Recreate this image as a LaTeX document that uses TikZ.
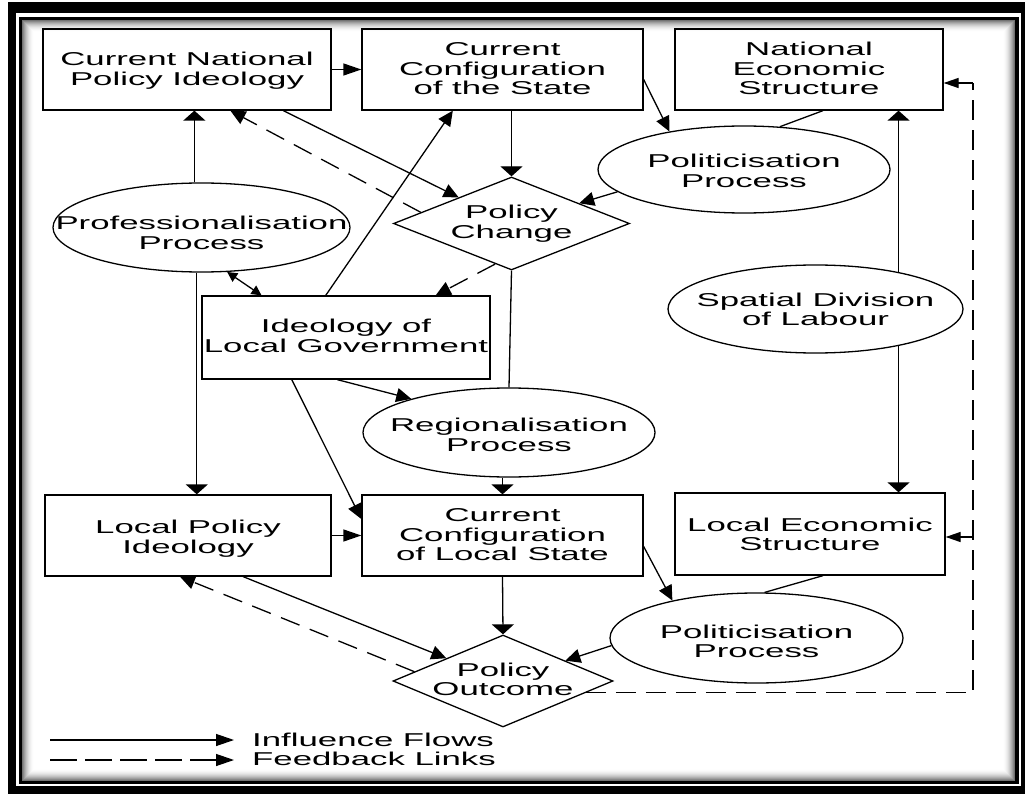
\documentclass[tikz,border=0pt]{standalone}
\usepackage{fontspec}
\setmainfont{Liberation Sans}[FakeStretch=1.87]
\usetikzlibrary{shapes.geometric,arrows.meta,calc}

% centred multi-line label that does not widen its node; optional downward shift
\newcommand\stacked[2][2pt]{\raisebox{-#1}[\height][\depth]{\makebox[0pt]{\begin{tabular}{@{}c@{}}#2\end{tabular}}}}

\begin{document}
\begin{tikzpicture}[x=1pt,y=-1pt,
  font=\fontsize{18.6}{19.5}\selectfont,
  box/.style={draw, line width=1.3pt, rectangle, inner sep=0pt},
  proc/.style={draw, line width=1.3pt, ellipse, inner sep=0pt},
  dec/.style={draw, line width=1.3pt, diamond, inner sep=0pt},
  link/.style={line width=1.3pt},
  inf/.style={link, -{Triangle[length=15pt,width=14pt]}},
  infh/.style={link, -{Triangle[length=18pt,width=12pt]}},
  infv/.style={link, -{Triangle[length=10pt,width=22pt]}},
  infs/.style={link, {Triangle[length=10pt,width=10pt]}-{Triangle[length=10pt,width=10pt]}},
  fb/.style={inf, dash pattern=on 20pt off 11pt},
]
\useasboundingbox (0,0) rectangle (1025,794);

% double frame with inner shadow
\fill[black] (8,2) rectangle (1025,794);
\fill[white] (16,13) rectangle (1021,786);
\fill[black] (19,17) rectangle (1019,784);
\fill[white] (22,20) rectangle (1015,781);
\foreach \i [evaluate=\i as \c using {55*(1-\i/12)^2}] in {0,...,11}
  \draw[line width=1.05pt, black!\c] (22.5+\i,20.5+\i) rectangle (1014.5-\i,780.5-\i);

% national level
\node[box, minimum width=288pt, minimum height=81pt] (cnpi) at (187,69.5) {\stacked{Current National\\Policy Ideology}};
\node[box, minimum width=281pt, minimum height=81pt] (ccs) at (502.5,69.5) {\stacked{Current\\Configuration\\of the State}};
\node[box, minimum width=268pt, minimum height=81pt] (nes) at (809,69.5) {\stacked{National\\Economic\\Structure}};
\node[proc, minimum width=292pt, minimum height=87pt] (polTop) at (744,169.5) {\stacked[4pt]{Politicisation\\Process}};
\node[dec, minimum width=236pt, minimum height=93pt] (pchg) at (511.5,223.5) {\stacked[1pt]{Policy\\Change}};
\node[proc, minimum width=297pt, minimum height=89pt] (prof) at (201.5,227.5) {\stacked[8pt]{Professionalisation\\Process}};

% intermediate level
\node[box, minimum width=288pt, minimum height=83pt] (iolg) at (346,337.5) {\stacked[1pt]{Ideology of\\Local Government}};
\node[proc, minimum width=295pt, minimum height=88pt] (spat) at (815.5,309) {\stacked[3pt]{Spatial Division\\of Labour}};
\node[proc, minimum width=292pt, minimum height=89pt] (reg) at (509,432.5) {\stacked[5pt]{Regionalisation\\Process}};

% local level
\node[box, minimum width=286pt, minimum height=81pt] (lpi) at (188,535.5) {\stacked[4pt]{Local Policy\\Ideology}};
\node[box, minimum width=281pt, minimum height=81pt] (ccls) at (502.5,535.5) {\stacked{Current\\Configuration\\of Local State}};
\node[box, minimum width=270pt, minimum height=82pt] (les) at (810,534) {\stacked[3pt]{Local Economic\\Structure}};
\node[proc, minimum width=293pt, minimum height=90pt] (polBot) at (756.5,638) {\stacked[6pt]{Politicisation\\Process}};
\node[dec, minimum width=220pt, minimum height=92pt] (pout) at (503,681) {\stacked[1pt]{Policy\\Outcome}};

% influence flows, national level
\draw[infh] (cnpi.east) -- (ccs.west);
\draw[inf] ($(ccs.east)+(0,10)$) -- (polTop.153);
\draw[infv] (pchg.north |- ccs.south) -- (pchg.north);
\draw[inf] (polTop.190) -- (pchg);
\draw[link] ($(nes.south west)!0.552!(nes.south east)$) -- (polTop.50);
\draw[infv] (spat.24) -- (spat.24 |- nes.south);
\draw[infv] (spat.-24) -- (spat.-24 |- les.north);
\draw[infv] (prof.99) -- (prof.99 |- cnpi.south);
\draw[infv] (prof.-96) -- (prof.-96 |- lpi.north);
\draw[infs] (prof.-60) -- ($(iolg.north west)!0.208!(iolg.north east)$);
\draw[inf] ($(cnpi.south west)!0.833!(cnpi.south east)$) -- (pchg);
\draw[inf] ($(iolg.north west)!0.43!(iolg.north east)$) -- ($(ccs.south west)!0.324!(ccs.south east)$);
\draw[link] (pchg.south) -- (reg.north);

% feedback from policy change
\draw[fb] (pchg.173) -- ($(cnpi.south west)!0.65!(cnpi.south east)$);
\draw[fb] (pchg.-112) -- ($(iolg.north west)!0.81!(iolg.north east)$);

% influence flows, local level
\draw[inf] ($(iolg.south west)!0.47!(iolg.south east)$) -- (reg.161);
\draw[inf] ($(iolg.south west)!0.3125!(iolg.south east)$) -- ($(ccls.north west)!0.3!(ccls.south west)$);
\draw[infv] (ccls.north |- reg.south) -- (ccls.north);
\draw[infh] (lpi.east) -- (ccls.west);
\draw[inf] ($(ccls.east)+(0,11)$) -- (polBot.156);
\draw[infv] (ccls.south) -- (pout.north);
\draw[link] ($(les.south west)!0.548!(les.south east)$) -- (polBot.80);
\draw[inf] (polBot.183) -- (pout);
\draw[inf] ($(lpi.south west)!0.692!(lpi.south east)$) -- (pout);

% feedback from policy outcome
\draw[fb] (pout.174.5) -- ($(lpi.south west)!0.472!(lpi.south east)$);
\coordinate (fbx) at (973,0);
\coordinate (nesIn) at ($(nes.east)+(0,13.5)$);
\coordinate (lesIn) at ($(les.east)+(0,3)$);
\draw[link, dash pattern=on 20pt off 10pt] (pout.-8) -- (pout.-8 -| fbx) -- (fbx |- nesIn);
\draw[link, -{Triangle[length=15pt,width=10pt]}] (fbx |- nesIn) -- (nesIn);
\draw[link, -{Triangle[length=15pt,width=10pt]}] (fbx |- lesIn) -- (lesIn);

% legend
\coordinate (lg1a) at (50,740);
\coordinate (lg1b) at (234,740);
\coordinate (lg2a) at (50,760);
\coordinate (lg2b) at (234,760);
\draw[infh] (lg1a) -- (lg1b);
\draw[infh, dash pattern=on 27pt off 8pt] (lg2a) -- (lg2b);
\node[anchor=base west, inner sep=0pt] (lg1t) at (252,746) {Influence Flows};
\node[anchor=base west, inner sep=0pt] (lg2t) at (252,765.5) {Feedback Links};
\end{tikzpicture}
\end{document}
